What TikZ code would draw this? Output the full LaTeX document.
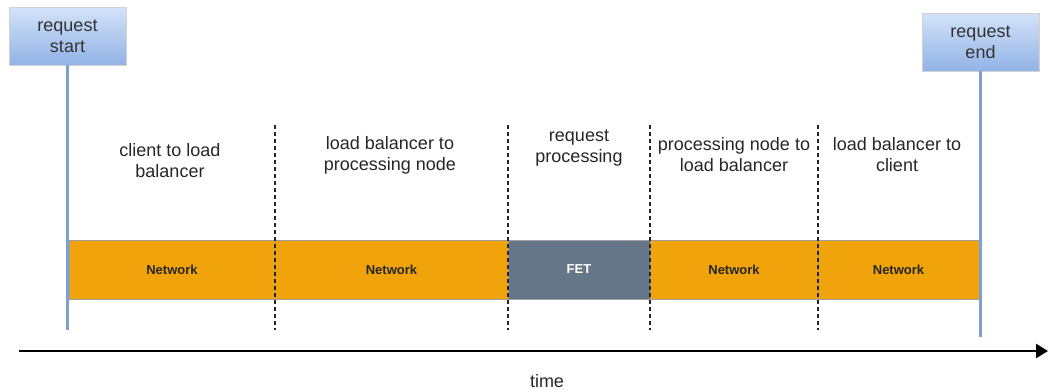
\documentclass[tikz,border=0pt]{standalone}
\usepackage{fontspec}
\setmainfont{Liberation Sans}
\usetikzlibrary{arrows.meta,positioning}

\definecolor{markblue}{HTML}{7E9FD6}
\definecolor{boxtop}{HTML}{D3E2F8}
\definecolor{boxbottom}{HTML}{92B3E6}
\definecolor{netorange}{HTML}{F0A30A}
\definecolor{fetgray}{HTML}{647687}

\tikzset{
	markbox/.style={draw=gray!35, top color=boxtop, bottom color=boxbottom,
		minimum width=117pt, minimum height=58pt, inner sep=0pt, outer sep=0pt,
		align=center, text=black!80, font=\fontsize{18}{21}\selectfont},
	markline/.style={line width=3pt, draw=markblue},
	seg/.style={draw=gray!75, line width=0.8pt, minimum height=59pt, inner sep=0pt,
		outer sep=0pt, font=\fontsize{13}{15}\selectfont\bfseries},
	netseg/.style={seg, fill=netorange, text=black!85},
	fetseg/.style={seg, fill=fetgray, text=white},
	phase/.style={align=center, text=black!85, font=\fontsize{18}{21}\selectfont},
	divider/.style={line width=1.3pt, dash pattern=on 4pt off 3pt, draw=black!85},
	timearrow/.style={line width=2.6pt, -{Triangle[length=12pt,width=14pt]}}
}

\begin{document}
\begin{tikzpicture}[x=1pt,y=-1pt]
	% 画布大小
	\useasboundingbox (0,0) rectangle (1049,391);

	% 时间轴上的各个阶段(色带)
	\node[netseg, anchor=north west, minimum width=206pt] (net1) at (69,240) {Network};
	\node[netseg, minimum width=233pt, right=0pt of net1] (net2) {Network};
	\node[fetseg, minimum width=142pt, right=0pt of net2] (fet) {FET};
	\node[netseg, minimum width=168pt, right=0pt of fet] (net3) {Network};
	\node[netseg, minimum width=161pt, right=0pt of net3] (net4) {Network};

	% 阶段之间的分隔线(虚线)
	\foreach \x [count=\i] in {275,508,650,818} {
		\coordinate (dtop\i) at (\x,125);
		\coordinate (dbot\i) at (\x,330);
		\draw[divider] (dtop\i) -- (dbot\i);
	}

	% 各阶段的说明文字
	\node[phase] (phase1) at (170,161) {client to load\\balancer};
	\node[phase] (phase2) at (390,155) {load balancer to\\processing node};
	\node[phase] (phase3) at (579,148) {request\\processing};
	\node[phase] (phase4) at (734,155) {processing node to\\load balancer};
	\node[phase] (phase5) at (897,155) {load balancer to\\client};

	% 请求开始与结束的标记
	\node[markbox, anchor=north west] (start) at (9,7) {request\\start};
	\node[markbox, anchor=north west] (end) at (922,13) {request\\end};
	\coordinate (startfoot) at ([yshift=-265pt]start.south);
	\coordinate (endfoot) at ([yshift=-266pt]end.south);
	\draw[markline] (start) -- (startfoot);
	\draw[markline] (end) -- (endfoot);

	% 时间轴
	\coordinate (tstart) at (19,351);
	\coordinate (tend) at (1048,351);
	\draw[timearrow] (tstart) -- (tend);
	\node[phase] (timelbl) at (547,381) {time};

\end{tikzpicture}
\end{document}
